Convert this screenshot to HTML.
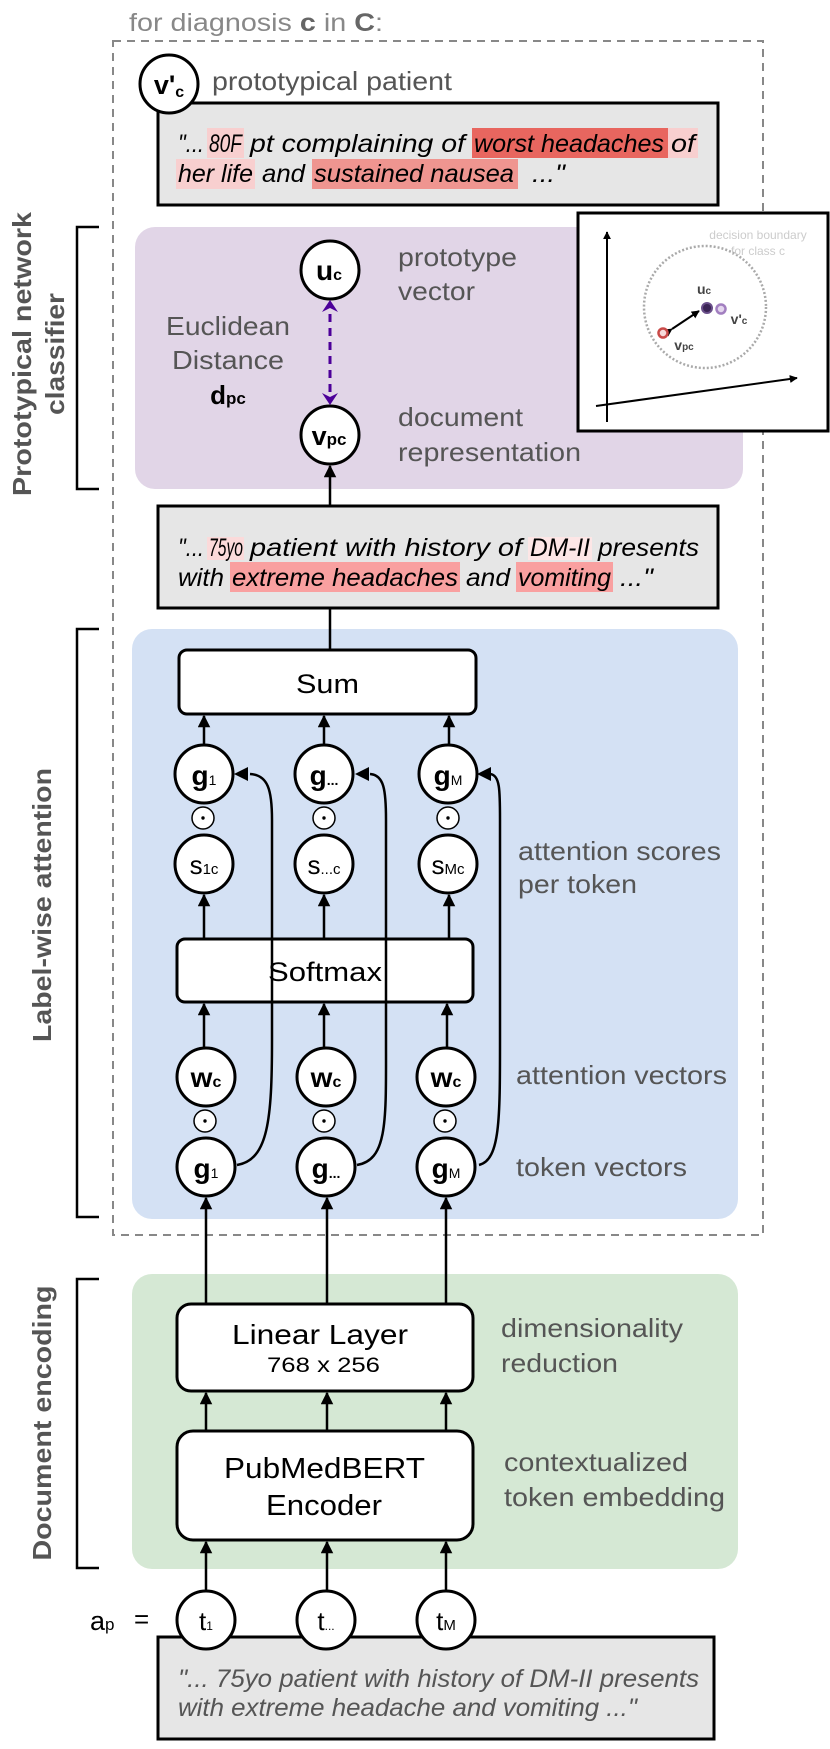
<!DOCTYPE html>
<html><head><meta charset="utf-8"><style>
html,body{margin:0;padding:0;background:#fff;}
svg{display:block;font-family:"Liberation Sans",Arial,sans-serif;}
</style></head><body>
<svg width="830" height="1749" viewBox="0 0 830 1749" xmlns="http://www.w3.org/2000/svg">
<defs>
<marker id="ah" viewBox="0 0 10 10" refX="9" refY="5" markerWidth="5" markerHeight="5" orient="auto"><path d="M0,0 L10,5 L0,10 z" fill="#000"/></marker>
<marker id="ahs" viewBox="0 0 10 10" refX="9" refY="5" markerWidth="4" markerHeight="4" orient="auto"><path d="M0,0 L10,5 L0,10 z" fill="#000"/></marker>
</defs>

<text x="129" y="31" font-size="25" fill="#888" textLength="254" lengthAdjust="spacingAndGlyphs">for diagnosis <tspan font-weight="bold" fill="#666">c</tspan> in <tspan font-weight="bold" fill="#666">C</tspan>:</text>

<rect x="135" y="227" width="608" height="262" rx="20" fill="#e1d5e7"/>
<rect x="132" y="629" width="606" height="590" rx="20" fill="#d4e1f4"/>
<rect x="132" y="1274" width="606" height="295" rx="20" fill="#d5e8d4"/>

<rect x="113" y="41" width="650" height="1194" fill="none" stroke="#888" stroke-width="2" stroke-dasharray="8,6"/>

<path d="M99,227 H77 V489 H99" fill="none" stroke="#000" stroke-width="2.5"/>
<path d="M99,629 H77 V1217 H99" fill="none" stroke="#000" stroke-width="2.5"/>
<path d="M99,1279 H77 V1568 H99" fill="none" stroke="#000" stroke-width="2.5"/>

<text transform="translate(31,354) rotate(-90)" text-anchor="middle" font-size="26" font-weight="bold" fill="#555" textLength="284" lengthAdjust="spacingAndGlyphs">Prototypical network</text>
<text transform="translate(64,354) rotate(-90)" text-anchor="middle" font-size="26" font-weight="bold" fill="#555" textLength="122" lengthAdjust="spacingAndGlyphs">classifier</text>
<text transform="translate(51,905) rotate(-90)" text-anchor="middle" font-size="26" font-weight="bold" fill="#555" textLength="274" lengthAdjust="spacingAndGlyphs">Label-wise attention</text>
<text transform="translate(51,1423) rotate(-90)" text-anchor="middle" font-size="26" font-weight="bold" fill="#555" textLength="275" lengthAdjust="spacingAndGlyphs">Document encoding</text>

<!-- top quote box -->
<rect x="158" y="103" width="560" height="102" fill="#e6e6e6" stroke="#000" stroke-width="3"/>
<rect x="207" y="128" width="37" height="30" fill="#f8cfcf"/>
<rect x="472" y="128" width="196" height="30" fill="#e8665f"/>
<rect x="668" y="128" width="30" height="30" fill="#f8cfcf"/>
<rect x="176" y="159" width="79" height="30" fill="#f8cfcf"/>
<rect x="312" y="159" width="206" height="30" fill="#ef9590"/>
<g font-size="25" font-style="italic">
<text x="178" y="152" textLength="26" lengthAdjust="spacingAndGlyphs">"...</text>
<text x="209" y="152" textLength="33" lengthAdjust="spacingAndGlyphs">80F</text>
<text x="250" y="152" textLength="215" lengthAdjust="spacingAndGlyphs">pt complaining of</text>
<text x="474" y="152" textLength="190" lengthAdjust="spacingAndGlyphs">worst headaches</text>
<text x="671" y="152" textLength="24" lengthAdjust="spacingAndGlyphs">of</text>
<text x="178" y="182" textLength="75" lengthAdjust="spacingAndGlyphs">her life</text>
<text x="262" y="182" textLength="43" lengthAdjust="spacingAndGlyphs">and</text>
<text x="314" y="182" textLength="200" lengthAdjust="spacingAndGlyphs">sustained nausea</text>
<text x="532" y="182" textLength="33" lengthAdjust="spacingAndGlyphs">..."</text>
</g>

<circle cx="169" cy="84" r="29" fill="#fff" stroke="#000" stroke-width="3"/>
<text x="169" y="94" text-anchor="middle" font-size="27" font-weight="bold">v'<tspan font-size="16" dy="3">c</tspan></text>
<text x="212" y="90" font-size="26" fill="#555" textLength="240" lengthAdjust="spacingAndGlyphs">prototypical patient</text>

<!-- prototype section -->
<circle cx="330" cy="270" r="29" fill="#fff" stroke="#000" stroke-width="3"/>
<text x="329" y="280" text-anchor="middle" font-size="28" font-weight="bold">u<tspan font-size="16">c</tspan></text>
<circle cx="330" cy="435" r="29" fill="#fff" stroke="#000" stroke-width="3"/>
<text x="329" y="445" text-anchor="middle" font-size="27" font-weight="bold">v<tspan font-size="17">pc</tspan></text>
<line x1="330" y1="392" x2="330" y2="313" stroke="#4c0099" stroke-width="3" stroke-dasharray="8,6"/>
<path d="M322,312 L330,300 L338,312 L330,308 z" fill="#4c0099"/>
<path d="M322,393 L330,405 L338,393 L330,397 z" fill="#4c0099"/>
<g font-size="26" fill="#555">
<text x="398" y="266" textLength="119" lengthAdjust="spacingAndGlyphs">prototype</text>
<text x="398" y="300" textLength="77" lengthAdjust="spacingAndGlyphs">vector</text>
<text x="166" y="335" textLength="124" lengthAdjust="spacingAndGlyphs">Euclidean</text>
<text x="172" y="369" textLength="112" lengthAdjust="spacingAndGlyphs">Distance</text>
<text x="398" y="426" textLength="125" lengthAdjust="spacingAndGlyphs">document</text>
<text x="398" y="461" textLength="183" lengthAdjust="spacingAndGlyphs">representation</text>
</g>
<text x="228" y="404" text-anchor="middle" font-size="26" font-weight="bold">d<tspan font-size="17">pc</tspan></text>

<!-- inset -->
<rect x="578" y="213" width="250" height="218" fill="#fff" stroke="#000" stroke-width="3"/>
<line x1="607" y1="422" x2="607" y2="232" stroke="#000" stroke-width="2" marker-end="url(#ahs)"/>
<line x1="596" y1="406" x2="797" y2="378" stroke="#000" stroke-width="2" marker-end="url(#ahs)"/>
<circle cx="705" cy="307" r="61" fill="none" stroke="#aaa" stroke-width="2.5" stroke-dasharray="2,2"/>
<text x="758" y="239" text-anchor="middle" font-size="12" fill="#ccc">decision boundary</text>
<text x="758" y="255" text-anchor="middle" font-size="12" fill="#ccc">for class c</text>
<line x1="672" y1="329" x2="699" y2="311" stroke="#000" stroke-width="2" marker-end="url(#ahs)" marker-start="url(#ahs)"/>
<circle cx="707" cy="308" r="5" fill="#3b2455" stroke="#6a4f8a" stroke-width="2"/>
<circle cx="721" cy="309" r="4.5" fill="#e4d6ee" stroke="#a27fc0" stroke-width="2.5"/>
<circle cx="663" cy="333" r="4.5" fill="#f7dada" stroke="#c94a48" stroke-width="2.5"/>
<text x="704" y="294" text-anchor="middle" font-size="14" font-weight="bold" fill="#444">u<tspan font-size="10">c</tspan></text>
<text x="739" y="324" text-anchor="middle" font-size="14" font-weight="bold" fill="#444">v'<tspan font-size="10">c</tspan></text>
<text x="684" y="350" text-anchor="middle" font-size="14" font-weight="bold" fill="#444">v<tspan font-size="10">pc</tspan></text>

<line x1="330" y1="506" x2="330" y2="466" stroke="#000" stroke-width="2.5" marker-end="url(#ah)"/>

<!-- second quote box -->
<rect x="158" y="506" width="560" height="102" fill="#e6e6e6" stroke="#000" stroke-width="3"/>
<rect x="207" y="537" width="37" height="23" fill="#fbdada"/>
<rect x="528" y="537" width="64" height="23" fill="#fde6e6"/>
<rect x="230" y="562" width="230" height="30" fill="#f9a0a0"/>
<rect x="516" y="562" width="97" height="30" fill="#f9a0a0"/>
<g font-size="25" font-style="italic">
<text x="178" y="556" textLength="26" lengthAdjust="spacingAndGlyphs">"...</text>
<text x="209" y="556" textLength="34" lengthAdjust="spacingAndGlyphs">75yo</text>
<text x="250" y="556" textLength="272" lengthAdjust="spacingAndGlyphs">patient with history of</text>
<text x="530" y="556" textLength="60" lengthAdjust="spacingAndGlyphs">DM-II</text>
<text x="598" y="556" textLength="101" lengthAdjust="spacingAndGlyphs">presents</text>
<text x="178" y="586" textLength="46" lengthAdjust="spacingAndGlyphs">with</text>
<text x="232" y="586" textLength="226" lengthAdjust="spacingAndGlyphs">extreme headaches</text>
<text x="466" y="586" textLength="44" lengthAdjust="spacingAndGlyphs">and</text>
<text x="518" y="586" textLength="93" lengthAdjust="spacingAndGlyphs">vomiting</text>
<text x="620" y="586" textLength="33" lengthAdjust="spacingAndGlyphs">..."</text>
</g>

<line x1="330" y1="608" x2="330" y2="650" stroke="#000" stroke-width="2.5"/>

<rect x="179" y="650" width="297" height="64" rx="8" fill="#fff" stroke="#000" stroke-width="3"/>
<text x="296" y="693" font-size="27" textLength="63" lengthAdjust="spacingAndGlyphs">Sum</text>

<rect x="177" y="939" width="296" height="63" rx="8" fill="#fff" stroke="#000" stroke-width="3"/>
<text x="268" y="981" font-size="27" textLength="114" lengthAdjust="spacingAndGlyphs">Softmax</text>

<path d="M237,1165 C268,1160 272,1120 272,1040 L272,820 C272,790 268,775 250,774" fill="none" stroke="#000" stroke-width="2.5"/>
<path d="M357,1165 C388,1160 386,1120 386,1040 L386,820 C386,790 384,775 370,774" fill="none" stroke="#000" stroke-width="2.5"/>
<path d="M479,1165 C500,1160 500,1120 500,1040 L500,820 C500,790 500,775 490,774" fill="none" stroke="#000" stroke-width="2.5"/>
<path d="M234,774 L248,767 L248,781 z" fill="#000"/>
<path d="M355,774 L369,767 L369,781 z" fill="#000"/>
<path d="M477,774 L491,767 L491,781 z" fill="#000"/>

<g stroke="#000" stroke-width="2.5" fill="none">
<line x1="204" y1="745" x2="204" y2="716" marker-end="url(#ah)"/>
<line x1="324" y1="745" x2="324" y2="716" marker-end="url(#ah)"/>
<line x1="449" y1="745" x2="449" y2="716" marker-end="url(#ah)"/>
<line x1="204" y1="939" x2="204" y2="895" marker-end="url(#ah)"/>
<line x1="324" y1="939" x2="324" y2="895" marker-end="url(#ah)"/>
<line x1="449" y1="939" x2="449" y2="895" marker-end="url(#ah)"/>
<line x1="204" y1="1048" x2="204" y2="1004" marker-end="url(#ah)"/>
<line x1="324" y1="1048" x2="324" y2="1004" marker-end="url(#ah)"/>
<line x1="447" y1="1048" x2="447" y2="1004" marker-end="url(#ah)"/>
<line x1="206" y1="1304" x2="206" y2="1198" marker-end="url(#ah)"/>
<line x1="327" y1="1304" x2="327" y2="1198" marker-end="url(#ah)"/>
<line x1="446" y1="1304" x2="446" y2="1198" marker-end="url(#ah)"/>
<line x1="206" y1="1431" x2="206" y2="1393" marker-end="url(#ah)"/>
<line x1="327" y1="1431" x2="327" y2="1393" marker-end="url(#ah)"/>
<line x1="446" y1="1431" x2="446" y2="1393" marker-end="url(#ah)"/>
<line x1="206" y1="1591" x2="206" y2="1542" marker-end="url(#ah)"/>
<line x1="327" y1="1591" x2="327" y2="1542" marker-end="url(#ah)"/>
<line x1="446" y1="1591" x2="446" y2="1542" marker-end="url(#ah)"/>
</g>

<g fill="#fff" stroke="#000" stroke-width="3">
<circle cx="204" cy="774" r="29"/><circle cx="324" cy="774" r="29"/><circle cx="448" cy="774" r="29"/>
<circle cx="204" cy="864" r="29"/><circle cx="324" cy="864" r="29"/><circle cx="448" cy="864" r="29"/>
<circle cx="206" cy="1077" r="29"/><circle cx="326" cy="1077" r="29"/><circle cx="446" cy="1077" r="29"/>
<circle cx="206" cy="1167" r="29"/><circle cx="326" cy="1167" r="29"/><circle cx="446" cy="1167" r="29"/>
</g>
<g fill="#fff" stroke="#000" stroke-width="1.5">
<circle cx="203" cy="818" r="11"/><circle cx="324" cy="818" r="11"/><circle cx="448" cy="818" r="11"/>
<circle cx="205" cy="1121" r="11"/><circle cx="324" cy="1121" r="11"/><circle cx="445" cy="1121" r="11"/>
</g>
<g fill="#000">
<circle cx="203" cy="818" r="1.7"/><circle cx="324" cy="818" r="1.7"/><circle cx="448" cy="818" r="1.7"/>
<circle cx="205" cy="1121" r="1.7"/><circle cx="324" cy="1121" r="1.7"/><circle cx="445" cy="1121" r="1.7"/>
</g>

<g font-weight="bold" font-size="28" text-anchor="middle">
<text x="204" y="785">g<tspan font-size="14" font-weight="normal">1</tspan></text>
<text x="324" y="785">g<tspan font-size="14">...</tspan></text>
<text x="448" y="785">g<tspan font-size="14" font-weight="normal">M</tspan></text>
<text x="206" y="1178">g<tspan font-size="14" font-weight="normal">1</tspan></text>
<text x="326" y="1178">g<tspan font-size="14">...</tspan></text>
<text x="446" y="1178">g<tspan font-size="14" font-weight="normal">M</tspan></text>
<text x="206" y="1087">w<tspan font-size="16">c</tspan></text>
<text x="326" y="1087">w<tspan font-size="16">c</tspan></text>
<text x="446" y="1087">w<tspan font-size="16">c</tspan></text>
</g>
<g font-size="26" text-anchor="middle">
<text x="204" y="874">s<tspan font-size="15">1c</tspan></text>
<text x="324" y="874">s<tspan font-size="15">...c</tspan></text>
<text x="448" y="874">s<tspan font-size="15">Mc</tspan></text>
</g>

<g font-size="26" fill="#555">
<text x="518" y="860" textLength="203" lengthAdjust="spacingAndGlyphs">attention scores</text>
<text x="518" y="893" textLength="119" lengthAdjust="spacingAndGlyphs">per token</text>
<text x="516" y="1084" textLength="211" lengthAdjust="spacingAndGlyphs">attention vectors</text>
<text x="516" y="1176" textLength="171" lengthAdjust="spacingAndGlyphs">token vectors</text>
<text x="501" y="1337" textLength="182" lengthAdjust="spacingAndGlyphs">dimensionality</text>
<text x="501" y="1372" textLength="117" lengthAdjust="spacingAndGlyphs">reduction</text>
<text x="504" y="1471" textLength="184" lengthAdjust="spacingAndGlyphs">contextualized</text>
<text x="504" y="1506" textLength="221" lengthAdjust="spacingAndGlyphs">token embedding</text>
</g>

<rect x="177" y="1304" width="296" height="87" rx="14" fill="#fff" stroke="#000" stroke-width="3"/>
<text x="232" y="1344" font-size="28" textLength="176" lengthAdjust="spacingAndGlyphs">Linear Layer</text>
<text x="267" y="1372" font-size="21" textLength="113" lengthAdjust="spacingAndGlyphs">768 x 256</text>
<rect x="177" y="1431" width="296" height="109" rx="16" fill="#fff" stroke="#000" stroke-width="3"/>
<text x="224" y="1478" font-size="29" textLength="201" lengthAdjust="spacingAndGlyphs">PubMedBERT</text>
<text x="266" y="1515" font-size="29" textLength="116" lengthAdjust="spacingAndGlyphs">Encoder</text>

<text x="90" y="1630" font-size="27">a<tspan font-size="17">p</tspan></text>
<text x="134" y="1628" font-size="26">=</text>

<rect x="158" y="1637" width="556" height="102" fill="#e6e6e6" stroke="#000" stroke-width="3"/>
<g fill="#fff" stroke="#000" stroke-width="3">
<circle cx="206" cy="1620" r="29"/><circle cx="326" cy="1620" r="29"/><circle cx="446" cy="1620" r="29"/>
</g>
<g font-size="26" text-anchor="middle">
<text x="206" y="1630">t<tspan font-size="12">1</tspan></text>
<text x="326" y="1630">t<tspan font-size="12">...</tspan></text>
<text x="446" y="1630">t<tspan font-size="15">M</tspan></text>
</g>
<text x="178" y="1687" font-size="25" font-style="italic" fill="#555" textLength="521" lengthAdjust="spacingAndGlyphs">"... 75yo patient with history of DM-II presents</text>
<text x="178" y="1716" font-size="25" font-style="italic" fill="#555" textLength="459" lengthAdjust="spacingAndGlyphs">with extreme headache and vomiting ..."</text>
</svg>
</body></html>
